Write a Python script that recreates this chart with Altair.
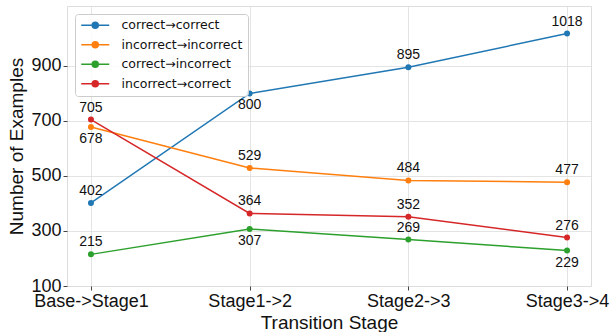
import altair as alt
import pandas as pd

stages = ["Base->Stage1", "Stage1->2", "Stage2->3", "Stage3->4"]
series_names = ["correct→correct", "incorrect→incorrect", "correct→incorrect", "incorrect→correct"]
correct_correct = [402, 800, 895, 1018]
incorrect_incorrect = [678, 529, 484, 477]
correct_incorrect = [215, 307, 269, 229]
incorrect_correct = [705, 364, 352, 276]
colors = ["#1f77b4", "#ff7f0e", "#2ca02c", "#d62728"]
y_ticks = [100, 300, 500, 700, 900]
# value labels drawn under their point rather than above it
labels_below = {
    ("correct→correct", "Stage1->2"),
    ("incorrect→incorrect", "Base->Stage1"),
    ("correct→incorrect", "Stage1->2"),
    ("correct→incorrect", "Stage3->4"),
}

all_values = [correct_correct, incorrect_incorrect, correct_incorrect, incorrect_correct]
rows = []
for name, vals in zip(series_names, all_values):
    for st, v in zip(stages, vals):
        rows.append({"stage": st, "series": name, "value": v,
                     "below": (name, st) in labels_below})
df = pd.DataFrame(rows)

FONT = "Liberation Sans"

x_enc = alt.X("stage:N", sort=stages,
              scale=alt.Scale(type="point", padding=0.151),
              axis=alt.Axis(title="Transition Stage", labelAngle=0, values=stages,
                            labelFontSize=18, titleFontSize=19, labelFont=FONT, titleFont=FONT,
                            labelColor="#111", titleColor="#111", titleFontWeight="normal",
                            tickSize=4, tickColor="#444", labelPadding=2, titlePadding=3,
                            grid=True, gridColor="#dddddd", gridWidth=0.8, domain=False))
y_enc = alt.Y("value:Q",
              scale=alt.Scale(domain=[100, 1118], nice=False, zero=False),
              axis=alt.Axis(title="Number of Examples", values=y_ticks,
                            labelFontSize=18, titleFontSize=19, labelFont=FONT, titleFont=FONT,
                            labelColor="#111", titleColor="#111", titleFontWeight="normal",
                            tickSize=4, tickColor="#444", labelPadding=2, titlePadding=4,
                            grid=True, gridColor="#dddddd", gridWidth=0.8, domain=False))

# legend glyph: a short line with a dot, drawn in units of sqrt(symbolSize)/2 = 5px
sym = "M-1,0H4.6M1.2,0A0.6,0.6 0 1,0 2.4,0A0.6,0.6 0 1,0 1.2,0Z"

color_enc = alt.Color("series:N", sort=series_names,
                      scale=alt.Scale(domain=series_names, range=colors),
                      legend=alt.Legend(title=None, orient="none", legendX=8, legendY=8,
                                        symbolType=sym, symbolSize=100, symbolStrokeWidth=1.5,
                                        labelFontSize=12.5, labelFont="DejaVu Sans", labelColor="#111",
                                        labelOffset=29, rowPadding=6.5, padding=5,
                                        fillColor="rgba(255,255,255,0.85)", strokeColor="#cccccc",
                                        cornerRadius=3))

base = alt.Chart(df)
lines = base.mark_line(strokeWidth=1.5).encode(x=x_enc, y=y_enc, color=color_enc,
                                                  detail="series:N")
points = base.mark_circle(size=36, opacity=1).encode(
    x=x_enc, y=y_enc,
    color=alt.Color("series:N", scale=alt.Scale(domain=series_names, range=colors), legend=None))
above = base.transform_filter("!datum.below").mark_text(
    dy=-12, baseline="middle", fontSize=14, font=FONT, color="#111").encode(
    x=x_enc, y=y_enc, text="value:Q")
below = base.transform_filter("datum.below").mark_text(
    dy=12, baseline="middle", fontSize=14, font=FONT, color="#111").encode(
    x=x_enc, y=y_enc, text="value:Q")

chart = alt.layer(lines, points, above, below).properties(
    width=524, height=280,
    autosize=alt.AutoSizeParams(type="none"),
    padding={"left": 67, "top": 6, "right": 20, "bottom": 46},
).configure_view(stroke="#333", strokeWidth=1.2).configure(background="white")

chart.save("out.html", embed_options={"renderer": "svg", "actions": False})
